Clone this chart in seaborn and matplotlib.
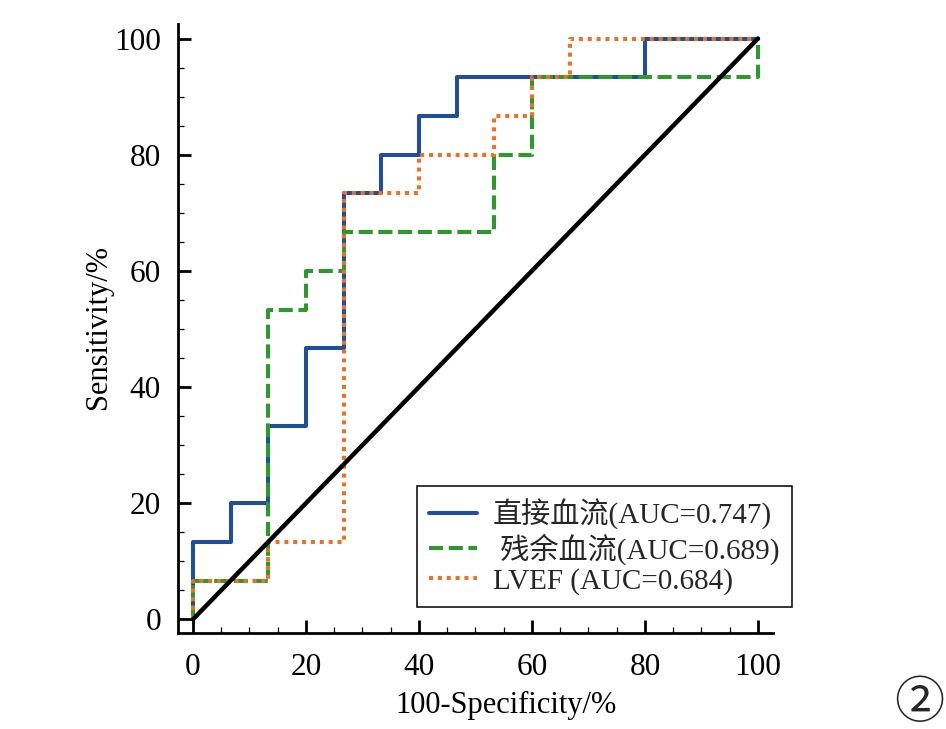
import numpy as np
import pandas as pd
import matplotlib
matplotlib.use("Agg")
import matplotlib.pyplot as plt
from matplotlib.ticker import MultipleLocator
import seaborn as sns

# ROC curve vertices (100-Specificity %, Sensitivity %)
direct_fpr = [0, 0, 6.67, 6.67, 13.33, 13.33, 20, 20, 26.67, 26.67, 33.33, 33.33, 40, 40, 46.67, 46.67, 80, 80, 100]
direct_tpr = [0, 13.33, 13.33, 20, 20, 33.33, 33.33, 46.67, 46.67, 73.33, 73.33, 80, 80, 86.67, 86.67, 93.33, 93.33, 100, 100]

resid_fpr = [0, 0, 13.33, 13.33, 20, 20, 26.67, 26.67, 53.33, 53.33, 60, 60, 100, 100]
resid_tpr = [0, 6.67, 6.67, 53.33, 53.33, 60, 60, 66.67, 66.67, 80, 80, 93.33, 93.33, 100]

lvef_fpr = [0, 0, 13.33, 13.33, 26.67, 26.67, 40, 40, 53.33, 53.33, 60, 60, 66.67, 66.67, 100]
lvef_tpr = [0, 6.67, 6.67, 13.33, 13.33, 73.33, 73.33, 80, 80, 86.67, 86.67, 93.33, 93.33, 100, 100]

ref_x = [0, 100]
ref_y = [0, 100]

labels = ["直接血流(AUC=0.747)", " 残余血流(AUC=0.689)", "LVEF (AUC=0.684)"]
xlabel = "100-Specificity/%"
ylabel = "Sensitivity/%"
ticks = [0, 20, 40, 60, 80, 100]

sns.set_theme(style="ticks")
plt.rcParams['font.family'] = ['Liberation Serif', 'Noto Sans CJK SC']

fig = plt.figure(figsize=(9.46, 7.29), dpi=100)
ax = fig.add_axes([0.1878, 0.1313, 0.629, 0.8358])

c_blue = "#1f4f9c"
c_green = "#2a9b2a"
c_orange = "#f07020"

sns.lineplot(x=direct_fpr, y=direct_tpr, ax=ax, sort=False, estimator=None,
             color=c_blue, linewidth=2.9, label=labels[0])
sns.lineplot(x=resid_fpr, y=resid_tpr, ax=ax, sort=False, estimator=None,
             color=c_green, linewidth=2.9, label=labels[1])
sns.lineplot(x=lvef_fpr, y=lvef_tpr, ax=ax, sort=False, estimator=None,
             color=c_orange, linewidth=2.9, label=labels[2])
sns.lineplot(x=ref_x, y=ref_y, ax=ax, sort=False, estimator=None,
             color="black", linewidth=3.2)

lines = ax.get_lines()
lines[1].set_dashes([3.5, 1.4])
lines[1].set_dash_capstyle("butt")
lines[2].set_dashes([1.0, 1.2])
lines[2].set_dash_capstyle("butt")

ax.set_xlim(-2.7, 102.6)
ax.set_ylim(-2.4, 102.5)
ax.set_xticks(ticks)
ax.set_yticks(ticks)
ax.xaxis.set_minor_locator(MultipleLocator(5))
ax.yaxis.set_minor_locator(MultipleLocator(5))
for s in ["top", "right"]:
    ax.spines[s].set_visible(False)
for s in ["left", "bottom"]:
    ax.spines[s].set_linewidth(2.0)
    ax.spines[s].set_color("black")
ax.tick_params(which="major", direction="in", length=9.5, width=2.0, labelsize=22.5,
               colors="black")
ax.tick_params(axis="x", which="major", pad=14)
ax.tick_params(axis="y", which="major", pad=12)
ax.tick_params(which="minor", direction="in", length=4.5, width=0.9, colors="black")
for lab in ax.get_xticklabels() + ax.get_yticklabels():
    lab.set_fontfamily(['Liberation Serif'])

ax.set_xlabel(xlabel, fontsize=22, color="black", va="center", ha="center")
ax.xaxis.set_label_coords(0.552, -0.119)
ax.set_ylabel(ylabel, fontsize=22, color="black", va="center", ha="center")
ax.yaxis.set_label_coords(-0.133, 0.503)

leg = ax.legend(handles=lines[:3], labels=labels, loc="lower right",
                bbox_to_anchor=(1.032, 0.0427), borderaxespad=0,
                fontsize=21, handlelength=1.65, handletextpad=0.55,
                labelspacing=0.12, borderpad=0.42, fancybox=False,
                framealpha=1, edgecolor="black")
leg.get_frame().set_linewidth(1.1)

fig.text(0.9715, 0.0343, "②", fontsize=36, ha="center", va="center",
         family=['Noto Sans CJK SC', 'DejaVu Sans'])

fig.savefig("out.png", dpi=100, facecolor="white")
